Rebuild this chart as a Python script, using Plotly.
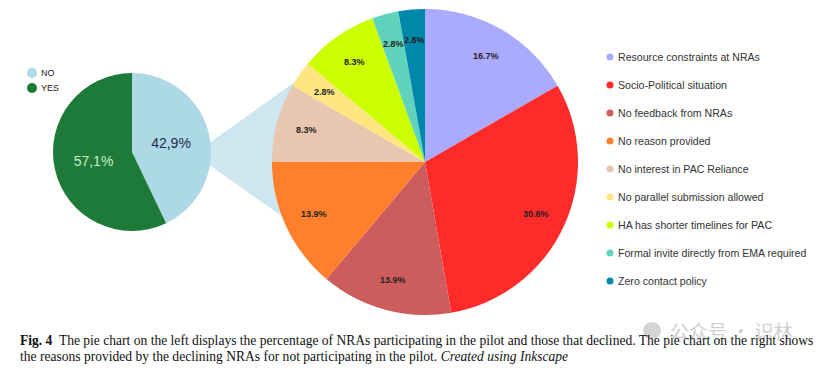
import math
import plotly.graph_objects as go

# ---- data ----
part_labels = ["NO", "YES"]
part_values = [42.9, 57.1]
part_colors = ["#add8e6", "#1e7a38"]
part_text_colors = ["#1f2d4d", "#c6f0c6"]

reason_labels = [
    "Resource constraints at NRAs",
    "Socio-Political situation",
    "No feedback from NRAs",
    "No reason provided",
    "No interest in PAC Reliance",
    "No parallel submission allowed",
    "HA has shorter timelines for PAC",
    "Formal invite directly from EMA required",
    "Zero contact policy",
]
reason_values = [16.7, 30.6, 13.9, 13.9, 8.3, 2.8, 8.3, 2.8, 2.8]
reason_colors = ["#aaaaff", "#ff2a2a", "#cd5c5c", "#ff7f2a", "#e9c6af",
                 "#ffe680", "#ccff00", "#5fd3bc", "#0088aa"]

caption1 = ("<b>Fig. 4</b>  The pie chart on the left displays the percentage of NRAs "
            "participating in the pilot and those that declined. The pie chart on the right shows")
caption2 = ("the reasons provided by the declining NRAs for not participating in the pilot. "
            "<i>Created using Inkscape</i>")
watermark = "公众号 · 识林"

# ---- layout geometry (screen pixels; page body has an 8px margin) ----
OFF = 8
W, H = 830 - OFF, 368 - OFF
def clamp(v):
    return max(0.0, min(1.0, v))
def px(x):
    return clamp((x - OFF) / W)
def py(y):
    return clamp(1 - (y - OFF) / H)

LCX, LCY, LR = 132, 152, 79          # left pie
RCX, RCY, RR = 425, 162, 153         # right pie
LABEL_FRAC = 0.8

fig = go.Figure()

# left pie
fig.add_trace(go.Pie(
    labels=part_labels, values=part_values, sort=False, direction="clockwise",
    rotation=0, marker=dict(colors=part_colors, line=dict(width=0)),
    text=[f"{v:.1f}".replace(".", ",") + "%" for v in part_values],
    textinfo="text", textposition="inside", insidetextorientation="horizontal",
    insidetextfont=dict(family="Liberation Sans, Arial", size=14, color=part_text_colors),
    domain=dict(x=[px(LCX - LR), px(LCX + LR)], y=[py(LCY + LR), py(LCY - LR)]),
    showlegend=False, hoverinfo="skip",
))

# right pie
fig.add_trace(go.Pie(
    labels=reason_labels, values=reason_values, sort=False, direction="clockwise",
    rotation=0, marker=dict(colors=reason_colors, line=dict(width=0)),
    textinfo="none",
    domain=dict(x=[px(RCX - RR), px(RCX + RR)], y=[py(RCY + RR), py(RCY - RR)]),
    showlegend=False, hoverinfo="skip",
))

# watermark (behind caption)
fig.add_shape(type="circle", xref="x", yref="y", x0=643, x1=661, y0=322, y1=339,
              fillcolor="rgba(170,170,170,0.5)", line=dict(width=0))
fig.add_annotation(x=668, y=330, xref="x", yref="y", text=watermark,
                   showarrow=False, xanchor="left", yanchor="middle",
                   font=dict(family="Noto Sans CJK SC", size=19, color="rgba(165,165,165,0.55)"))

# right pie percentage labels along each slice bisector
total = sum(reason_values)
cum = 0.0
for v in reason_values:
    mid = (cum + v / 2) / total * 2 * math.pi
    cum += v
    fig.add_annotation(
        x=RCX + LABEL_FRAC * RR * math.sin(mid), y=RCY - LABEL_FRAC * RR * math.cos(mid),
        xref="x", yref="y", text=f"<b>{v:.1f}%</b>", showarrow=False,
        xanchor="center", yanchor="middle",
        font=dict(family="Liberation Sans, Arial", size=9, color="#222222"))

# legends drawn as circle markers + labels
L1X, L1Y, L1STEP = 32, 73, 15
fig.add_trace(go.Scatter(
    x=[L1X] * len(part_labels), y=[L1Y + i * L1STEP for i in range(len(part_labels))],
    mode="markers", marker=dict(size=10, color=part_colors, line=dict(width=0)),
    showlegend=False, hoverinfo="skip", cliponaxis=False,
))
for i, lab in enumerate(part_labels):
    fig.add_annotation(x=L1X + 7, y=L1Y + i * L1STEP, xref="x", yref="y", text=lab,
                       showarrow=False, xanchor="left", yanchor="middle",
                       font=dict(family="Liberation Sans, Arial", size=9, color="#222"))

L2X, L2Y, L2STEP = 610, 57, 28
fig.add_trace(go.Scatter(
    x=[L2X] * len(reason_labels), y=[L2Y + i * L2STEP for i in range(len(reason_labels))],
    mode="markers", marker=dict(size=7, color=reason_colors, line=dict(width=0)),
    showlegend=False, hoverinfo="skip", cliponaxis=False,
))
for i, lab in enumerate(reason_labels):
    fig.add_annotation(x=L2X + 6, y=L2Y + i * L2STEP, xref="x", yref="y", text=lab,
                       showarrow=False, xanchor="left", yanchor="middle",
                       font=dict(family="Liberation Sans, Arial", size=10.6, color="#333"))

# funnel connecting both pies
fx = [205, 330, 330, 205]
fy = [146, 57, 250, 162]
path = "M " + " L ".join(f"{px(a)},{py(b)}" for a, b in zip(fx, fy)) + " Z"
fig.add_shape(type="path", path=path, xref="paper", yref="paper",
              fillcolor="#cde6ef", line=dict(width=0), layer="below")

# caption
fig.add_annotation(x=18, y=340, xref="x", yref="y", text=caption1,
                   showarrow=False, xanchor="left", yanchor="middle",
                   font=dict(family="Liberation Serif, Times New Roman", size=13.55, color="#111"))
fig.add_annotation(x=18, y=356, xref="x", yref="y", text=caption2,
                   showarrow=False, xanchor="left", yanchor="middle",
                   font=dict(family="Liberation Serif, Times New Roman", size=13.55, color="#111"))

fig.update_layout(
    width=W, height=H, margin=dict(l=0, r=0, t=0, b=0),
    paper_bgcolor="white", plot_bgcolor="rgba(0,0,0,0)",
    xaxis=dict(visible=False, range=[OFF, OFF + W], domain=[0, 1], fixedrange=True),
    yaxis=dict(visible=False, range=[OFF + H, OFF], domain=[0, 1], fixedrange=True),
    showlegend=False,
)

fig.write_html("out.html")
